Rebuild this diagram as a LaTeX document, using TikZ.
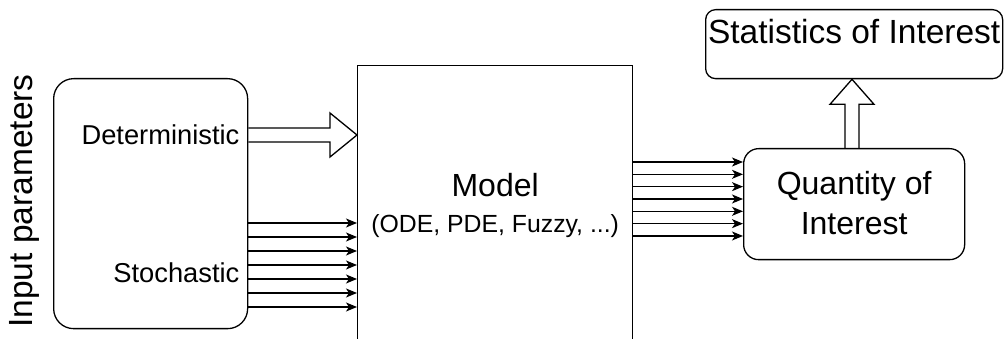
\documentclass[tikz,border=0pt]{standalone}
\usepackage{fontspec}
\setmainfont{Liberation Sans}
\usetikzlibrary{arrows.meta,calc}
\begin{document}
\begin{tikzpicture}[x=1pt,y=-1pt,line width=1.3pt,
  box/.style={draw,inner sep=0pt,anchor=north west},
  lbl/.style={inner sep=0pt},
  thin/.style={line width=1.2pt,-{Stealth[length=11pt,width=9pt,inset=3pt]}},
  fa/.style={font=\fontsize{27.3}{32}\selectfont},
  fb/.style={font=\fontsize{32}{38}\selectfont},
  fd/.style={font=\fontsize{33.5}{38}\selectfont},
  fc/.style={font=\fontsize{24.8}{28}\selectfont}]
\useasboundingbox (0,0) rectangle (1005,339);
% boxes
\node[box,rounded corners=20pt,minimum width=194pt,minimum height=250pt] (inp) at (53,78) {};
\node[box,minimum width=275pt,minimum height=300pt] (model) at (357,65) {};
\node[box,rounded corners=15pt,minimum width=221pt,minimum height=111pt] (qoi) at (743,148) {};
\node[box,rounded corners=10pt,minimum width=297pt,minimum height=69pt] (stat) at (705,9) {};
% texts
\node[lbl,fd,rotate=90,anchor=base] (ip) at (32.5,201) {Input parameters};
\node[lbl,fa,anchor=base east] (det) at (240,145) {Deterministic};
\node[lbl,fa,anchor=base east] (sto) at (240,283) {Stochastic};
\node[lbl,fb,anchor=base] (mod) at (model.north |- 0,197) {Model};
\node[lbl,fc,anchor=base] (ode) at (model.north |- 0,233) {(ODE, PDE, Fuzzy, ...)};
\node[lbl,fb,anchor=base] (q1) at (qoi.north |- 0,195) {Quantity of};
\node[lbl,fb,anchor=base] (q2) at (qoi.north |- 0,235) {Interest};
\node[lbl,fd,anchor=base] (st) at (stat.north |- 0,44) {Statistics of Interest};
% deterministic hollow arrow
\coordinate (dy) at (0,135);
\draw[line join=miter] ($(inp.east |- dy)+(0,-7)$) -- ($(model.west |- dy)+(-27,-7)$)
  -- ($(model.west |- dy)+(-27,-22)$) -- (model.west |- dy)
  -- ($(model.west |- dy)+(-27,22)$) -- ($(model.west |- dy)+(-27,7)$)
  -- ($(inp.east |- dy)+(0,7)$);
% stochastic arrows
\foreach \y in {223,237,...,307}{
  \coordinate (sy) at (0,\y);
  \draw[thin] (inp.east |- sy) -- (model.west |- sy);
}
% output arrows
\foreach \i in {0,...,6}{
  \coordinate (oy) at (0,162+\i*12.33);
  \draw[thin] (model.east |- oy) -- (qoi.west |- oy);
}
% up hollow arrow
\coordinate (ux) at (852,0);
\draw[line join=miter] ($(qoi.north -| ux)+(-7,0)$) -- ($(stat.south -| ux)+(-7,25)$)
  -- ($(stat.south -| ux)+(-22,25)$) -- (stat.south -| ux)
  -- ($(stat.south -| ux)+(22,25)$) -- ($(stat.south -| ux)+(7,25)$)
  -- ($(qoi.north -| ux)+(7,0)$);
\end{tikzpicture}
\end{document}
